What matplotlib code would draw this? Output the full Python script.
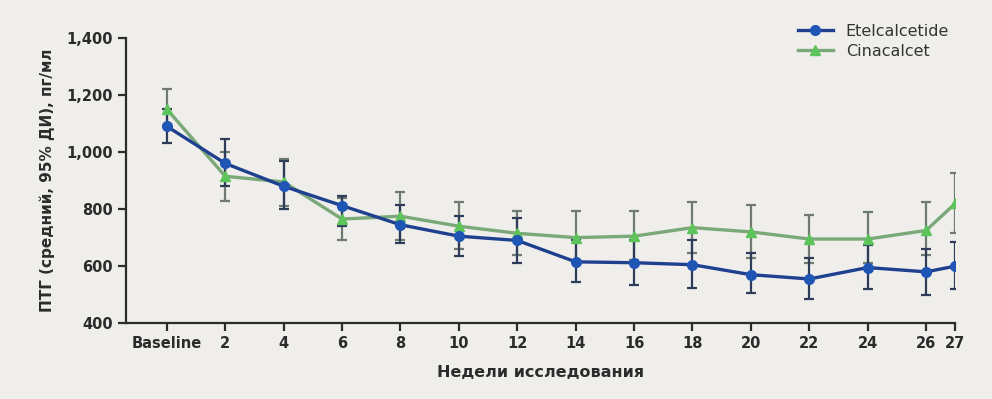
import numpy as np
import matplotlib.pyplot as plt

# Недели исследования (0 = Baseline)
weeks = [0, 2, 4, 6, 8, 10, 12, 14, 16, 18, 20, 22, 24, 26, 27]
tick_labels = ['Baseline', '2', '4', '6', '8', '10', '12', '14', '16', '18',
               '20', '22', '24', '26', '27']

# Etelcalcetide: среднее и 95% ДИ
etel_mean = [1090, 960, 880, 812, 745, 705, 690, 615, 612, 605, 570, 555, 595, 580, 600]
etel_low = [1030, 880, 800, 740, 680, 635, 610, 545, 535, 525, 505, 485, 520, 500, 520]
etel_high = [1150, 1045, 970, 845, 815, 775, 770, 690, 690, 690, 645, 630, 675, 660, 685]

# Cinacalcet: среднее и 95% ДИ
cina_mean = [1150, 915, 895, 765, 775, 740, 715, 700, 705, 735, 720, 695, 695, 725, 820]
cina_low = [1090, 830, 810, 690, 690, 660, 640, 615, 620, 645, 630, 610, 610, 640, 715]
cina_high = [1220, 1000, 975, 840, 860, 825, 795, 795, 795, 825, 815, 780, 790, 825, 925]

bg = '#efeeeb'
fig = plt.figure(figsize=(9.92, 3.99), dpi=100, facecolor=bg)
ax = fig.add_axes([0.127, 0.19, 0.836, 0.715])
ax.set_facecolor(bg)

w = np.array(weeks)
ce = [np.array(cina_mean) - np.array(cina_low), np.array(cina_high) - np.array(cina_mean)]
ee = [np.array(etel_mean) - np.array(etel_low), np.array(etel_high) - np.array(etel_mean)]

ax.errorbar(w, cina_mean, yerr=ce, fmt='none', ecolor='#6f7a70', elinewidth=1.6,
            capsize=3.5, capthick=1.6, zorder=2)
ax.errorbar(w, etel_mean, yerr=ee, fmt='none', ecolor='#2e3c5a', elinewidth=1.6,
            capsize=3.5, capthick=1.6, zorder=2)

ax.plot(w, etel_mean, color='#1f3f8f', lw=2.4, marker='o', markersize=7,
        markerfacecolor='#1f55b5', markeredgecolor='#1f55b5', label='Etelcalcetide', zorder=4)
ax.plot(w, cina_mean, color='#7aa878', lw=2.4, marker='^', markersize=7.5,
        markerfacecolor='#5cc45a', markeredgecolor='#5cc45a', label='Cinacalcet', zorder=3)

ax.set_xlim(-1.4, 27)
ax.set_ylim(400, 1400)
ax.set_xticks(weeks)
ax.set_xticklabels(tick_labels)
yt = [400, 600, 800, 1000, 1200, 1400]
ax.set_yticks(yt)
ax.set_yticklabels([f'{v:,}' for v in yt])

for s in ['top', 'right']:
    ax.spines[s].set_visible(False)
for s in ['left', 'bottom']:
    ax.spines[s].set_linewidth(1.6)
    ax.spines[s].set_color('#2b2b2b')
ax.tick_params(axis='both', direction='out', length=6, width=1.6, color='#2b2b2b',
               labelsize=10.5, labelcolor='#2b2b2b')
for lbl in ax.get_xticklabels() + ax.get_yticklabels():
    lbl.set_fontweight('bold')

ax.set_xlabel('Недели исследования', fontsize=11.5, fontweight='bold', color='#2b2b2b', labelpad=10)
ax.set_ylabel('ПТГ (средний, 95% ДИ), пг/мл', fontsize=11, fontweight='bold', color='#2b2b2b', labelpad=8)

leg = ax.legend(loc='upper right', bbox_to_anchor=(1.01, 1.1), frameon=False, fontsize=11.5,
                handlelength=2.2, labelspacing=0.3)
for t in leg.get_texts():
    t.set_color('#333333')

fig.savefig('out.png', dpi=100, facecolor=bg)
